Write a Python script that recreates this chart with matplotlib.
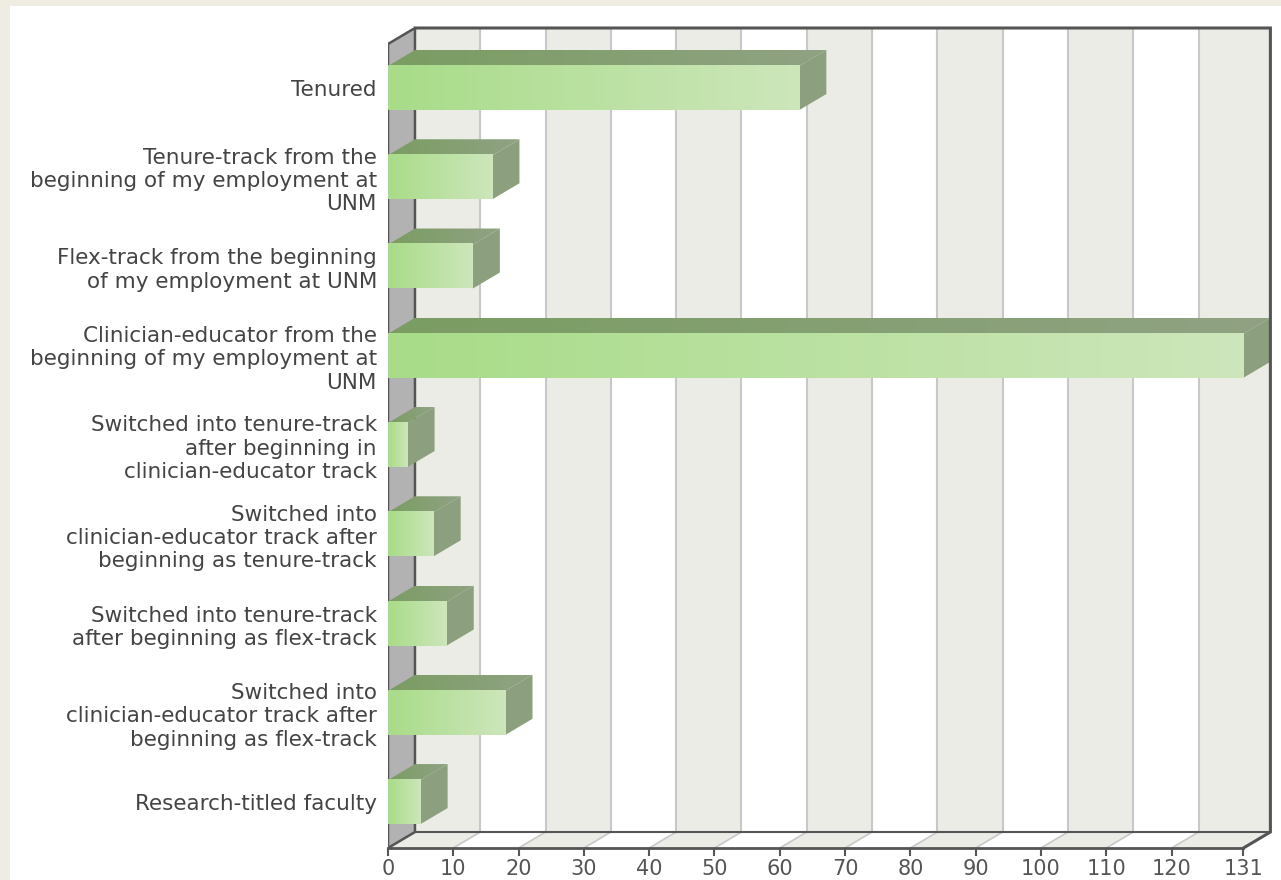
import matplotlib
matplotlib.use("Agg")
import matplotlib.pyplot as plt
from matplotlib.colors import LinearSegmentedColormap
from matplotlib.patches import Polygon, Rectangle
import numpy as np

plt.rcParams["font.family"] = ["DejaVu Sans"]

# ── 資料 ─────────────────────────────────────────────────
categories = [
    "Tenured",
    "Tenure-track from the\nbeginning of my employment at\nUNM",
    "Flex-track from the beginning\nof my employment at UNM",
    "Clinician-educator from the\nbeginning of my employment at\nUNM",
    "Switched into tenure-track\nafter beginning in\nclinician-educator track",
    "Switched into\nclinician-educator track after\nbeginning as tenure-track",
    "Switched into tenure-track\nafter beginning as flex-track",
    "Switched into\nclinician-educator track after\nbeginning as flex-track",
    "Research-titled faculty",
]
counts = [63, 16, 13, 131, 3, 7, 9, 18, 5]
tick_values = [0, 10, 20, 30, 40, 50, 60, 70, 80, 90, 100, 110, 120, 131]
x_max = 131

# ── 外觀 ─────────────────────────────────────────────────
DX = 4.13      # 3D 深度（x 單位）
DY = 0.179     # 3D 深度（類別單位）
BAR_H = 0.493
Y_TOP = -0.672
Y_BOT = 8.515
X_LIM = 135.07

front_cmap = LinearSegmentedColormap.from_list("front", ["#a8dc88", "#cde6bb"])
top_cmap = LinearSegmentedColormap.from_list("top", ["#7a9d62", "#90a283"])
SIDE = "#8c9f7e"
BAND = "#ececE6"
GRID = "#c8c8c8"
WALL = "#b2b2b2"
EDGE = "#555555"

fig = plt.figure(figsize=(12.81, 8.8), dpi=100)
fig.patch.set_facecolor("#efece3")
fig.patches.append(Rectangle((10 / 1281, 0), 1, 1 - 6 / 880, transform=fig.transFigure,
                             facecolor="white", edgecolor="none", zorder=-10))

ax = fig.add_axes([388 / 1281, 32 / 880, 882 / 1281, 820 / 880])
ax.set_facecolor("none")
for s in ["top", "right", "left"]:
    ax.spines[s].set_visible(False)

y_back_bot = Y_BOT - DY

# 背牆：交錯色帶
edges = list(range(0, 130, 10)) + [x_max]
for k in range(len(edges) - 1):
    a, b = edges[k], edges[k + 1]
    col = BAND if k % 2 == 0 else "white"
    ax.add_patch(Rectangle((a + DX, Y_TOP), b - a, y_back_bot - Y_TOP,
                           facecolor=col, edgecolor="none", zorder=1))
    ax.add_patch(Polygon([(a, Y_BOT), (a + DX, y_back_bot), (b + DX, y_back_bot), (b, Y_BOT)],
                         closed=True, facecolor=col, edgecolor="none", zorder=1))
for g in range(10, 130, 10):
    ax.plot([g + DX, g + DX], [Y_TOP, y_back_bot], color=GRID, lw=1.5, zorder=2)
    ax.plot([g, g + DX], [Y_BOT, y_back_bot], color=GRID, lw=1.2, zorder=2)
ax.plot([DX, x_max + DX], [y_back_bot, y_back_bot], color=EDGE, lw=1.5, zorder=2)

# 外框
ax.plot([DX, x_max + DX, x_max + DX, x_max], [Y_TOP, Y_TOP, y_back_bot, Y_BOT],
        color=EDGE, lw=2.2, zorder=6, clip_on=False, solid_joinstyle="miter")

# 左牆
ax.add_patch(Polygon([(0, Y_TOP + DY), (DX, Y_TOP), (DX, y_back_bot), (0, Y_BOT)],
                     closed=True, facecolor=WALL, edgecolor=EDGE, lw=1.8, zorder=3))

# ── 長條 ─────────────────────────────────────────────────
grad = np.linspace(0, 1, 256).reshape(1, -1)
for i, v in enumerate(counts):
    yt = i - BAR_H / 2
    yb = i + BAR_H / 2
    # 正面
    ax.imshow(grad, cmap=front_cmap, aspect="auto", extent=(0, v, yb, yt),
              interpolation="bilinear", zorder=5)
    # 頂面
    top = Polygon([(0, yt), (DX, yt - DY), (v + DX, yt - DY), (v, yt)],
                  closed=True, facecolor="none", edgecolor="none")
    ax.add_patch(top)
    im = ax.imshow(grad, cmap=top_cmap, aspect="auto", extent=(0, v + DX, yt, yt - DY),
                   interpolation="bilinear", zorder=4)
    im.set_clip_path(top)
    # 側面
    ax.add_patch(Polygon([(v, yt), (v + DX, yt - DY), (v + DX, yb - DY), (v, yb)],
                         closed=True, facecolor=SIDE, edgecolor="none", zorder=4))

# ── 座標軸 ───────────────────────────────────────────────
ax.set_xlim(0, X_LIM)
ax.set_ylim(Y_BOT, Y_TOP)
ax.spines["bottom"].set_bounds(0, x_max)
ax.spines["bottom"].set_color(EDGE)
ax.spines["bottom"].set_linewidth(2)
ax.spines["bottom"].set_zorder(7)
ax.set_xticks(tick_values)
ax.set_xticklabels([str(t) for t in tick_values])
ax.tick_params(axis="x", length=6, width=1.5, color=EDGE, labelcolor="#555555",
               labelsize=15, pad=2)
ax.set_yticks(range(len(categories)))
ax.set_yticklabels(categories)
ax.tick_params(axis="y", length=0, pad=8, labelcolor="#444444", labelsize=15.5)

plt.savefig("out.png", dpi=100, facecolor=fig.get_facecolor())
